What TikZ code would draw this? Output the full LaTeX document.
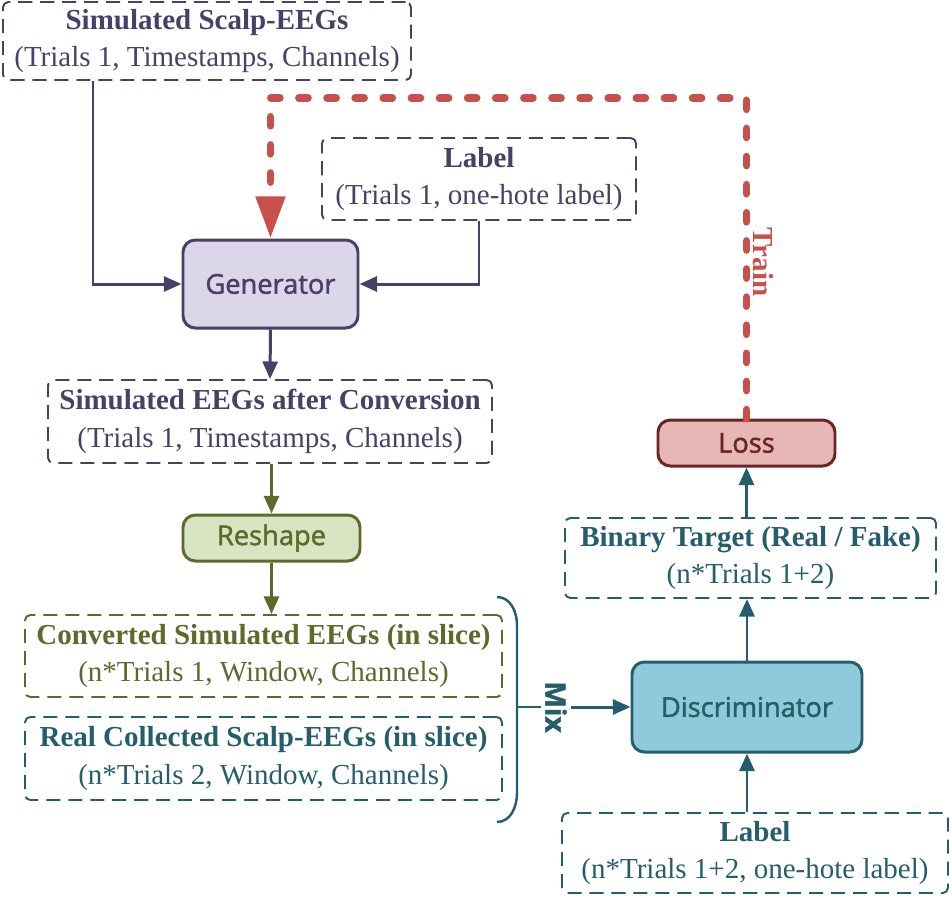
\documentclass[tikz,border=0pt]{standalone}
\usepackage{fontspec}
\setmainfont{Liberation Serif}
\newfontfamily\blocksans{Open Sans}[FakeBold=1.6]
\usetikzlibrary{arrows.meta}

\definecolor{genpurple}{RGB}{74,63,102}
\definecolor{genfill}{RGB}{220,214,233}
\definecolor{reshapeolive}{RGB}{90,107,44}
\definecolor{reshapefill}{RGB}{216,228,194}
\definecolor{discteal}{RGB}{36,94,108}
\definecolor{discfill}{RGB}{142,202,217}
\definecolor{trainred}{RGB}{200,80,74}
\definecolor{lossdark}{RGB}{106,37,37}
\definecolor{lossfill}{RGB}{230,183,180}

\begin{document}
\begin{tikzpicture}[
    databox/.style={draw, dashed, line width=1.1pt, dash pattern=on 8pt off 4.5pt,
      rounded corners=3pt, align=center, inner sep=0pt,
      font=\fontsize{16.5}{21.5}\selectfont},
    block/.style={draw, line width=1.7pt, rounded corners=7pt, align=center,
      font=\blocksans\fontsize{15.5}{18}\selectfont},
    flow/.style={line width=1.7pt, -{Triangle[length=10pt,width=8.5pt]}},
    trainline/.style={trainred, line width=4.5pt, line cap=round,
      dash pattern=on 5pt off 11pt, -{Triangle[length=24pt,width=16pt]}},
  ]
  \useasboundingbox (0,0) rectangle (19.04,-17.94);

  % Generator branch
  \node[databox, genpurple, minimum width=8.16cm, minimum height=1.56cm] (simeeg) at (4.14,-0.82)
    {\textbf{Simulated Scalp-EEGs}\\(Trials 1, Timestamps, Channels)};
  \node[databox, genpurple, minimum width=6.28cm, minimum height=1.64cm] (lab) at (9.58,-3.58)
    {\textbf{Label}\\(Trials 1, one-hote label)};
  \node[block, genpurple, fill=genfill, minimum width=3.5cm, minimum height=1.76cm] (gen) at (5.41,-5.68)
    {Generator};
  \node[databox, genpurple, minimum width=8.88cm, minimum height=1.66cm] (simconv) at (5.40,-8.43)
    {\textbf{Simulated EEGs after Conversion}\\(Trials 1, Timestamps, Channels)};

  \draw[flow, genpurple] ([xshift=-2.28cm]simeeg.south) |- (gen.west);
  \draw[flow, genpurple] (lab.south) |- (gen.east);
  \draw[flow, genpurple] (gen.south) -- (simconv.north);

  % Reshape
  \node[block, reshapeolive, fill=reshapefill, minimum width=3.54cm, minimum height=0.92cm] (reshape) at (5.43,-10.76)
    {Reshape};
  \node[databox, reshapeolive, minimum width=9.54cm, minimum height=1.64cm] (simslice) at (5.27,-13.12)
    {\textbf{Converted Simulated EEGs (in slice)}\\(n*Trials 1, Window, Channels)};
  \node[databox, discteal, minimum width=9.54cm, minimum height=1.66cm] (realslice) at (5.27,-15.17)
    {\textbf{Real Collected Scalp-EEGs (in slice)}\\(n*Trials 2, Window, Channels)};

  \draw[flow, reshapeolive] (simconv.south -| reshape) -- (reshape.north);
  \draw[flow, reshapeolive] (reshape.south) -- (simslice.north -| reshape);

  % Mix brace
  \draw[discteal, line width=1.4pt] (9.94,-11.94) to[out=0, in=90] (10.34,-12.5)
    -- (10.34,-15.86) to[out=-90, in=0] (9.94,-16.44);
  \coordinate (mixbrace) at (10.34,-14.14);
  \node[discteal, rotate=-90, inner sep=2pt, font=\blocksans\fontsize{16}{18}\selectfont\bfseries] (mix) at (11.12,-14.14) {Mix};

  % Discriminator branch
  \node[block, discteal, fill=discfill, minimum width=4.6cm, minimum height=1.8cm] (disc) at (14.94,-14.14)
    {Discriminator};
  \node[databox, discteal, minimum width=7.72cm, minimum height=1.6cm] (dlab) at (15.10,-17.06)
    {\textbf{Label}\\(n*Trials 1+2, one-hote label)};
  \node[databox, discteal, minimum width=7.42cm, minimum height=1.6cm] (target) at (15.01,-11.16)
    {\textbf{Binary Target (Real / Fake)}\\(n*Trials 1+2)};
  \node[block, lossdark, fill=lossfill, minimum width=3.54cm, minimum height=0.92cm] (loss) at (14.93,-8.86)
    {Loss};

  \draw[discteal, line width=1.4pt] (mixbrace) -- (mix.south);
  \draw[flow, discteal] (mix.north) -- (disc.west);
  \draw[flow, discteal] (dlab.north -| disc) -- (disc.south);
  \draw[flow, discteal] (disc.north) -- (target.south -| disc);
  \draw[flow, discteal] (target.north -| loss) -- (loss.south);

  % Training feedback
  \coordinate (trainbend) at (10,-1.96);
  \draw[trainline] (loss.north) |- (trainbend) -| (gen.north);
  \node[trainred, rotate=-90, font=\fontsize{16.5}{20}\selectfont\bfseries] (train) at (15.26,-5.24) {Train};
\end{tikzpicture}
\end{document}
